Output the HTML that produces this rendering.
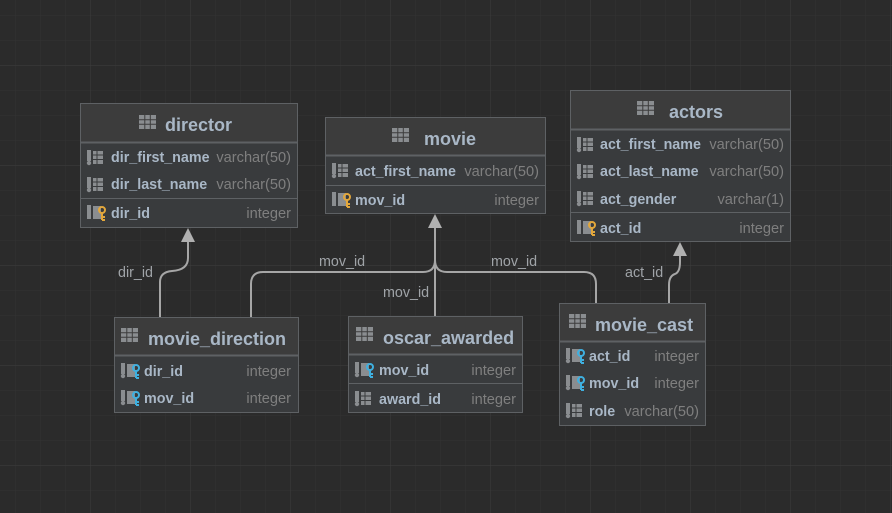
<!DOCTYPE html>
<html><head><meta charset="utf-8"><style>
html,body{margin:0;padding:0;background:#2b2b2b;}
svg{display:block;font-family:"Liberation Sans","DejaVu Sans",sans-serif;}
.t{fill:#a9b7c6;font-weight:bold;font-size:18px;}
.n{fill:#a9b7c6;font-weight:bold;font-size:14.3px;}
.ty{fill:#7f7f7f;font-size:14.6px;}
.l{fill:#a0a4a8;font-size:14.3px;}
.c{fill:none;stroke:#a6a6a6;stroke-width:2;}
</style></head><body>
<svg width="892" height="513" viewBox="0 0 892 513" xmlns="http://www.w3.org/2000/svg">
<defs>
<pattern id="mi" width="25" height="25" patternUnits="userSpaceOnUse" x="15" y="15">
<path d="M0 0H25M0 0V25" stroke="#333333" stroke-width="1"/></pattern>
<pattern id="ma" width="100" height="100" patternUnits="userSpaceOnUse" x="90" y="65">
<path d="M0 0H100M0 0V100" stroke="#3b3b3b" stroke-width="1.2"/></pattern>
<g id="tbl"><rect x="0" y="0" width="17" height="14" fill="#8a8d90"/><path d="M0 4.8H17M0 9.3H17M5.8 0V14M11.3 0V14" stroke="#3c3c3c" stroke-width="1"/></g>
<g id="col"><rect x="1" y="0" width="4" height="11" fill="#8a8d90"/><circle cx="3" cy="13" r="2.2" fill="#8a8d90"/><rect x="7" y="1" width="10" height="13" fill="#8a8d90"/><path d="M7 5H17M7 9.5H17M11 1V14" stroke="#393b3d" stroke-width="1"/></g>
<g id="kk"><rect x="1" y="0" width="4" height="14" fill="#8a8d90"/><rect x="7" y="1" width="8" height="13" fill="#8a8d90"/><circle cx="16" cy="5" r="3" fill="none" stroke="#e3a73b" stroke-width="2"/><path d="M16 8V15M16 12H19M16 15H19" stroke="#e3a73b" stroke-width="2"/></g>
<g id="fk"><rect x="1" y="0" width="4" height="11" fill="#8a8d90"/><circle cx="3" cy="13" r="2.2" fill="#8a8d90"/><rect x="7" y="1" width="8" height="13" fill="#8a8d90"/><circle cx="16" cy="5" r="3" fill="none" stroke="#3fb0e0" stroke-width="2"/><path d="M16 8V15M16 12H19M16 15H19" stroke="#3fb0e0" stroke-width="2"/></g>
</defs>
<rect width="892" height="513" fill="#2b2b2b"/>
<rect width="892" height="513" fill="url(#mi)"/>
<rect width="892" height="513" fill="url(#ma)"/>

<path class="c" d="M160 317V282Q160 272 172 271Q188 270 188 258V240"/>
<polygon points="188,228 181,242 195,242" fill="#b0b0b0"/>
<path class="c" d="M251 317V284Q251 272 263 272H423Q435 272 435 260V226M596 303V284Q596 272 584 272H447Q435 272 435 260M435 316V226"/>
<polygon points="435,214 428,228 442,228" fill="#b0b0b0"/>
<path class="c" d="M669 303V285Q669 276 675 274Q680 272 680 262V254"/>
<polygon points="680,242 673,256 687,256" fill="#b0b0b0"/>
<text class="l" x="118" y="277">dir_id</text>
<text class="l" x="319" y="266">mov_id</text>
<text class="l" x="383" y="297">mov_id</text>
<text class="l" x="491" y="266">mov_id</text>
<text class="l" x="625" y="277">act_id</text>

<g transform="translate(80,103)">
<rect x="0.5" y="0.5" width="217" height="124" fill="#393b3d" stroke="#5e6164"/>
<rect x="1" y="1" width="216" height="38" fill="#3c3c3c"/>
<line x1="1" y1="39.5" x2="217" y2="39.5" stroke="#5e6164" stroke-width="2"/>
<use href="#tbl" x="59" y="12"/><text class="t" x="85" y="28">director</text>
<use href="#col" x="6" y="47"/><text class="n" x="31" y="59">dir_first_name</text><text class="ty" x="211" y="59" text-anchor="end">varchar(50)</text>
<use href="#col" x="6" y="74"/><text class="n" x="31" y="86">dir_last_name</text><text class="ty" x="211" y="86" text-anchor="end">varchar(50)</text>
<line x1="1" y1="95.5" x2="217" y2="95.5" stroke="#5e6164"/>
<use href="#kk" x="6" y="102"/><text class="n" x="31" y="115">dir_id</text><text class="ty" x="211" y="115" text-anchor="end">integer</text>
</g>

<g transform="translate(325,117)">
<rect x="0.5" y="0.5" width="220" height="96" fill="#393b3d" stroke="#5e6164"/>
<rect x="1" y="1" width="219" height="37" fill="#3c3c3c"/>
<line x1="1" y1="38.5" x2="220" y2="38.5" stroke="#5e6164" stroke-width="2"/>
<use href="#tbl" x="67" y="11"/><text class="t" x="99" y="28">movie</text>
<use href="#col" x="6" y="46"/><text class="n" x="30" y="59">act_first_name</text><text class="ty" x="214" y="59" text-anchor="end">varchar(50)</text>
<line x1="1" y1="68.5" x2="220" y2="68.5" stroke="#5e6164"/>
<use href="#kk" x="6" y="75"/><text class="n" x="30" y="88">mov_id</text><text class="ty" x="214" y="88" text-anchor="end">integer</text>
</g>

<g transform="translate(570,90)">
<rect x="0.5" y="0.5" width="220" height="151" fill="#393b3d" stroke="#5e6164"/>
<rect x="1" y="1" width="219" height="38" fill="#3c3c3c"/>
<line x1="1" y1="39.5" x2="220" y2="39.5" stroke="#5e6164" stroke-width="2"/>
<use href="#tbl" x="67" y="11"/><text class="t" x="99" y="28">actors</text>
<use href="#col" x="6" y="47"/><text class="n" x="30" y="59">act_first_name</text><text class="ty" x="214" y="59" text-anchor="end">varchar(50)</text>
<use href="#col" x="6" y="74"/><text class="n" x="30" y="86">act_last_name</text><text class="ty" x="214" y="86" text-anchor="end">varchar(50)</text>
<use href="#col" x="6" y="101"/><text class="n" x="30" y="114">act_gender</text><text class="ty" x="214" y="114" text-anchor="end">varchar(1)</text>
<line x1="1" y1="122.5" x2="220" y2="122.5" stroke="#5e6164"/>
<use href="#kk" x="6" y="130"/><text class="n" x="30" y="143">act_id</text><text class="ty" x="214" y="143" text-anchor="end">integer</text>
</g>

<g transform="translate(114,317)">
<rect x="0.5" y="0.5" width="184" height="95" fill="#393b3d" stroke="#5e6164"/>
<rect x="1" y="1" width="183" height="37" fill="#3c3c3c"/>
<line x1="1" y1="38.5" x2="184" y2="38.5" stroke="#5e6164" stroke-width="2"/>
<use href="#tbl" x="7" y="11"/><text class="t" x="34" y="28">movie_direction</text>
<use href="#fk" x="6" y="46"/><text class="n" x="30" y="59">dir_id</text><text class="ty" x="177" y="59" text-anchor="end">integer</text>
<use href="#fk" x="6" y="73"/><text class="n" x="30" y="86">mov_id</text><text class="ty" x="177" y="86" text-anchor="end">integer</text>
</g>

<g transform="translate(348,316)">
<rect x="0.5" y="0.5" width="174" height="96" fill="#393b3d" stroke="#5e6164"/>
<rect x="1" y="1" width="173" height="37" fill="#3c3c3c"/>
<line x1="1" y1="38.5" x2="174" y2="38.5" stroke="#5e6164" stroke-width="2"/>
<use href="#tbl" x="8" y="11"/><text class="t" x="35" y="28">oscar_awarded</text>
<use href="#fk" x="6" y="46"/><text class="n" x="31" y="59">mov_id</text><text class="ty" x="168" y="59" text-anchor="end">integer</text>
<line x1="1" y1="67.5" x2="174" y2="67.5" stroke="#5e6164"/>
<use href="#col" x="6" y="75"/><text class="n" x="31" y="88">award_id</text><text class="ty" x="168" y="88" text-anchor="end">integer</text>
</g>

<g transform="translate(559,303)">
<rect x="0.5" y="0.5" width="146" height="122" fill="#393b3d" stroke="#5e6164"/>
<rect x="1" y="1" width="145" height="37" fill="#3c3c3c"/>
<line x1="1" y1="38.5" x2="146" y2="38.5" stroke="#5e6164" stroke-width="2"/>
<use href="#tbl" x="10" y="11"/><text class="t" x="36" y="28">movie_cast</text>
<use href="#fk" x="6" y="45"/><text class="n" x="30" y="58">act_id</text><text class="ty" x="140" y="58" text-anchor="end">integer</text>
<use href="#fk" x="6" y="72"/><text class="n" x="30" y="85">mov_id</text><text class="ty" x="140" y="85" text-anchor="end">integer</text>
<use href="#col" x="6" y="100"/><text class="n" x="30" y="113">role</text><text class="ty" x="140" y="113" text-anchor="end">varchar(50)</text>
</g>
</svg>
</body></html>
